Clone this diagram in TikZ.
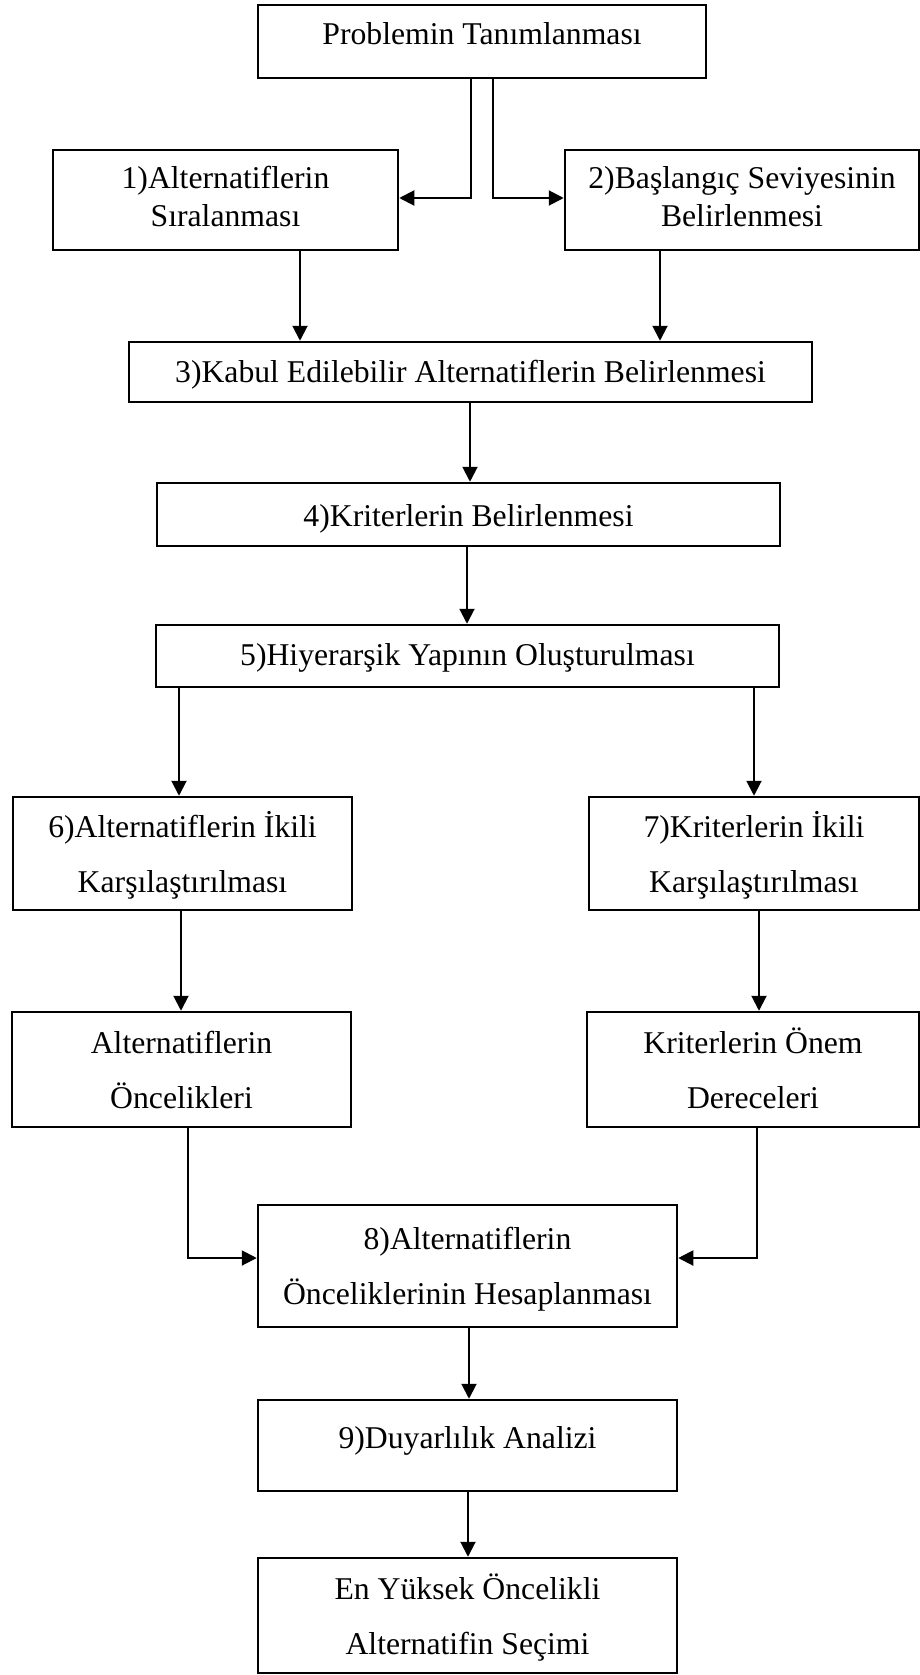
\documentclass[tikz,border=0pt]{standalone}
\usepackage{fontspec}
\setmainfont{Liberation Serif}
\usetikzlibrary{arrows.meta}
\begin{document}
\begin{tikzpicture}[x=1pt,y=-1pt,
  box/.style={draw, line width=2.5pt, inner sep=0pt, align=center,
    font=\fontsize{31.7}{38}\selectfont},
  wide/.style={font=\fontsize{31.7}{55}\selectfont},
  conn/.style={line width=2pt},
  arr/.style={conn, -{Triangle[length=15pt,width=15pt]}}]
\path[use as bounding box, fill=white] (0,0) rectangle (920,1675);

% boxes
\node[box, minimum width=448pt, minimum height=73pt, text height=24pt, text depth=17pt] (p0) at (482,41.5) {Problemin Tanımlanması};
\node[box, minimum width=345pt, minimum height=100pt] (b1) at (225.5,200) {\strut 1)Alternatiflerin\\\strut Sıralanması};
\node[box, minimum width=354pt, minimum height=100pt] (b2) at (742,200) {\strut 2)Başlangıç Seviyesinin\\\strut Belirlenmesi};
\node[box, minimum width=683pt, minimum height=60pt, text height=26pt, text depth=6pt] (b3) at (470.5,372) {3)Kabul Edilebilir Alternatiflerin Belirlenmesi};
\node[box, minimum width=623pt, minimum height=63pt, text height=27pt, text depth=4pt] (b4) at (468.5,514.5) {4)Kriterlerin Belirlenmesi};
\node[box, minimum width=623pt, minimum height=62pt, text height=26pt, text depth=8pt] (b5) at (467.5,656) {5)Hiyerarşik Yapının Oluşturulması};
\node[box, wide, minimum width=339pt, minimum height=113pt] (b6) at (182.5,853.5) {\strut 6)Alternatiflerin İkili\\\strut Karşılaştırılması};
\node[box, wide, minimum width=330pt, minimum height=113pt] (b7) at (754,853.5) {\strut 7)Kriterlerin İkili\\\strut Karşılaştırılması};
\node[box, wide, minimum width=339pt, minimum height=115pt] (ba) at (181.5,1069.5) {\strut Alternatiflerin\\\strut Öncelikleri};
\node[box, wide, minimum width=332pt, minimum height=115pt] (bk) at (753,1069.5) {\strut Kriterlerin Önem\\\strut Dereceleri};
\node[box, wide, minimum width=419pt, minimum height=122pt] (b8) at (467.5,1266) {\strut 8)Alternatiflerin\\\strut Önceliklerinin Hesaplanması};
\node[box, minimum width=419pt, minimum height=91pt, text height=24pt, text depth=19pt] (b9) at (467.5,1445.5) {9)Duyarlılık Analizi};
\node[box, wide, minimum width=419pt, minimum height=115pt] (bf) at (467.5,1615.5) {\strut En Yüksek Öncelikli\\\strut Alternatifin Seçimi};

% connector columns
\coordinate (x471) at (471,0);
\coordinate (x493) at (493,0);
\coordinate (x300) at (300,0);
\coordinate (x660) at (660,0);
\coordinate (x470) at (470,0);
\coordinate (x467) at (467,0);
\coordinate (x179) at (179,0);
\coordinate (x754) at (754,0);
\coordinate (x181) at (181,0);
\coordinate (x759) at (759,0);
\coordinate (x188) at (188,0);
\coordinate (x757) at (757,0);
\coordinate (x469) at (469,0);
\coordinate (x468) at (468,0);

% connectors
\draw[arr] (p0.south -| x471) |- ([yshift=2pt]b1.east);
\draw[arr] (p0.south -| x493) |- ([yshift=2pt]b2.west);
\draw[arr] (b1.south -| x300) -- (b3.north -| x300);
\draw[arr] (b2.south -| x660) -- (b3.north -| x660);
\draw[arr] (b3.south -| x470) -- (b4.north -| x470);
\draw[arr] (b4.south -| x467) -- (b5.north -| x467);
\draw[arr] (b5.south -| x179) -- (b6.north -| x179);
\draw[arr] (b5.south -| x754) -- (b7.north -| x754);
\draw[arr] (b6.south -| x181) -- (ba.north -| x181);
\draw[arr] (b7.south -| x759) -- (bk.north -| x759);
\draw[arr] (ba.south -| x188) |- ([yshift=8pt]b8.west);
\draw[arr] (bk.south -| x757) |- ([yshift=8pt]b8.east);
\draw[arr] (b8.south -| x469) -- (b9.north -| x469);
\draw[arr] (b9.south -| x468) -- (bf.north -| x468);
\end{tikzpicture}
\end{document}
